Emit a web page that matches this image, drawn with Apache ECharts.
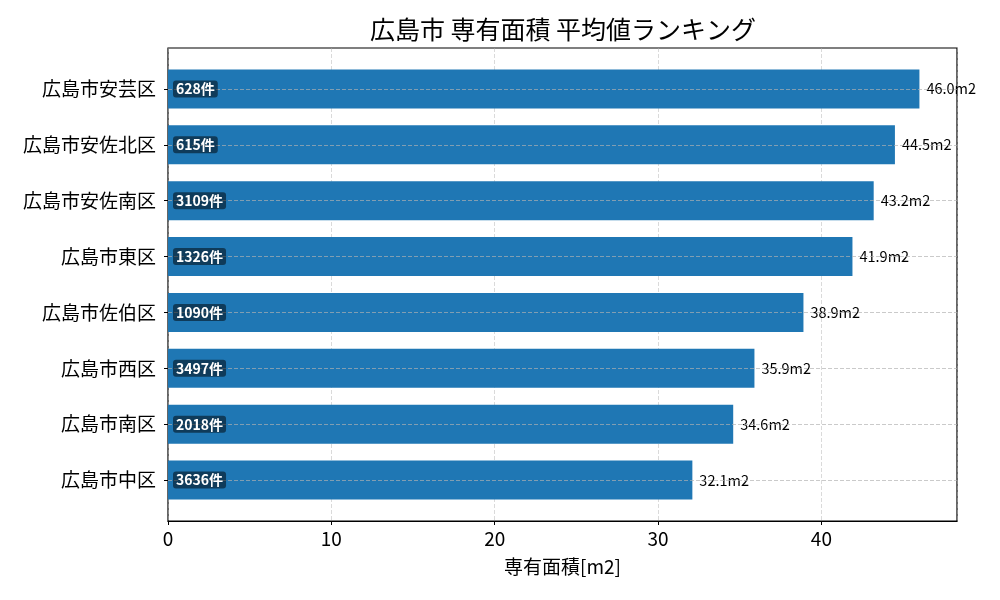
<!DOCTYPE html>
<html>
<head>
<meta charset="utf-8">
<script src="https://cdn.jsdelivr.net/npm/echarts@6/dist/echarts.min.js"></script>
<style>
  html, body { margin: 0; padding: 0; background: #fff; }
  #main { width: 1000px; height: 600px; }
</style>
</head>
<body>
<div id="main"></div>
<script>
// 区ごとの平均専有面積 (上から順)
var areas = ['広島市安芸区', '広島市安佐北区', '広島市安佐南区', '広島市東区', '広島市佐伯区', '広島市西区', '広島市南区', '広島市中区'];
var avgArea = [46.0, 44.5, 43.2, 41.9, 38.9, 35.9, 34.6, 32.1];
var counts = [628, 615, 3109, 1326, 1090, 3497, 2018, 3636];
var xTicks = [0, 10, 20, 30, 40];
var xMax = 48.3;

var font = '"Noto Sans CJK JP", "Noto Sans", sans-serif';
var chart = echarts.init(document.getElementById('main'), null, {renderer: 'canvas'});

chart.setOption({
  backgroundColor: '#fff',
  animation: false,
  textStyle: {fontFamily: font},
  title: {
    text: '広島市 専有面積 平均値ランキング',
    left: 558,
    top: 12,
    textAlign: 'center',
    textStyle: {fontSize: 25, fontWeight: 'normal', color: '#000', fontFamily: font}
  },
  grid: [
    // frame + x axis
    {left: 168, right: 43, top: 48, bottom: 79, show: true, borderColor: '#000', borderWidth: 1.2, backgroundColor: 'transparent'},
    // bars
    {left: 168, right: 43, top: 61, bottom: 92}
  ],
  xAxis: [
    {
      gridIndex: 0, type: 'value', min: 0, max: xMax, interval: 10,
      name: '専有面積[m2]', nameLocation: 'middle', nameGap: 36,
      nameTextStyle: {fontSize: 19, color: '#000', fontFamily: font},
      axisLine: {show: true, lineStyle: {color: '#000', width: 1.2}},
      axisTick: {show: true, length: 4, lineStyle: {color: '#000'}},
      axisLabel: {
        fontSize: 19, color: '#000', margin: 8, showMaxLabel: false, fontFamily: font,
        formatter: function (v) { return xTicks.indexOf(v) >= 0 ? String(v) : ''; }
      },
      splitLine: {show: true, lineStyle: {color: '#b0b0b0', type: [4, 2], width: 0.8, opacity: 0.6}}
    },
    {gridIndex: 1, type: 'value', min: 0, max: xMax, show: false}
  ],
  yAxis: [
    {gridIndex: 0, type: 'value', min: 0, max: 1, show: false},
    {
      gridIndex: 1, type: 'category', data: areas, inverse: true,
      axisLine: {show: false},
      axisTick: {show: true, alignWithLabel: true, length: 4, lineStyle: {color: '#000'}},
      axisLabel: {fontSize: 19, color: '#000', margin: 12, fontFamily: font},
      splitLine: {show: false}
    }
  ],
  series: [
    {
      type: 'bar', xAxisIndex: 1, yAxisIndex: 1,
      data: avgArea, barWidth: 39, barGap: '-100%',
      itemStyle: {color: '#1f77b4'},
      label: {
        show: true, position: 'right', distance: 7, color: '#000', fontSize: 14.5, fontFamily: font,
        formatter: function (p) { return p.value.toFixed(1) + 'm2'; }
      },
      markLine: {
        silent: true, symbol: ['none', 'none'],
        label: {show: false},
        lineStyle: {color: '#b0b0b0', type: [4, 2], width: 0.8, opacity: 0.85},
        data: areas.map(function (a) { return {yAxis: a}; })
      }
    },
    {
      type: 'bar', xAxisIndex: 1, yAxisIndex: 1,
      data: avgArea, barWidth: 39, barGap: '-100%', z: 5,
      itemStyle: {color: 'transparent'},
      label: {
        show: true, position: 'insideLeft', distance: 5,
        color: '#fff', fontWeight: 'bold', fontSize: 14, fontFamily: font,
        backgroundColor: 'rgba(0,0,0,0.5)', borderRadius: 3, padding: [2, 3, 1, 3],
        formatter: function (p) { return counts[p.dataIndex] + '件'; }
      }
    }
  ]
});
</script>
</body>
</html>
